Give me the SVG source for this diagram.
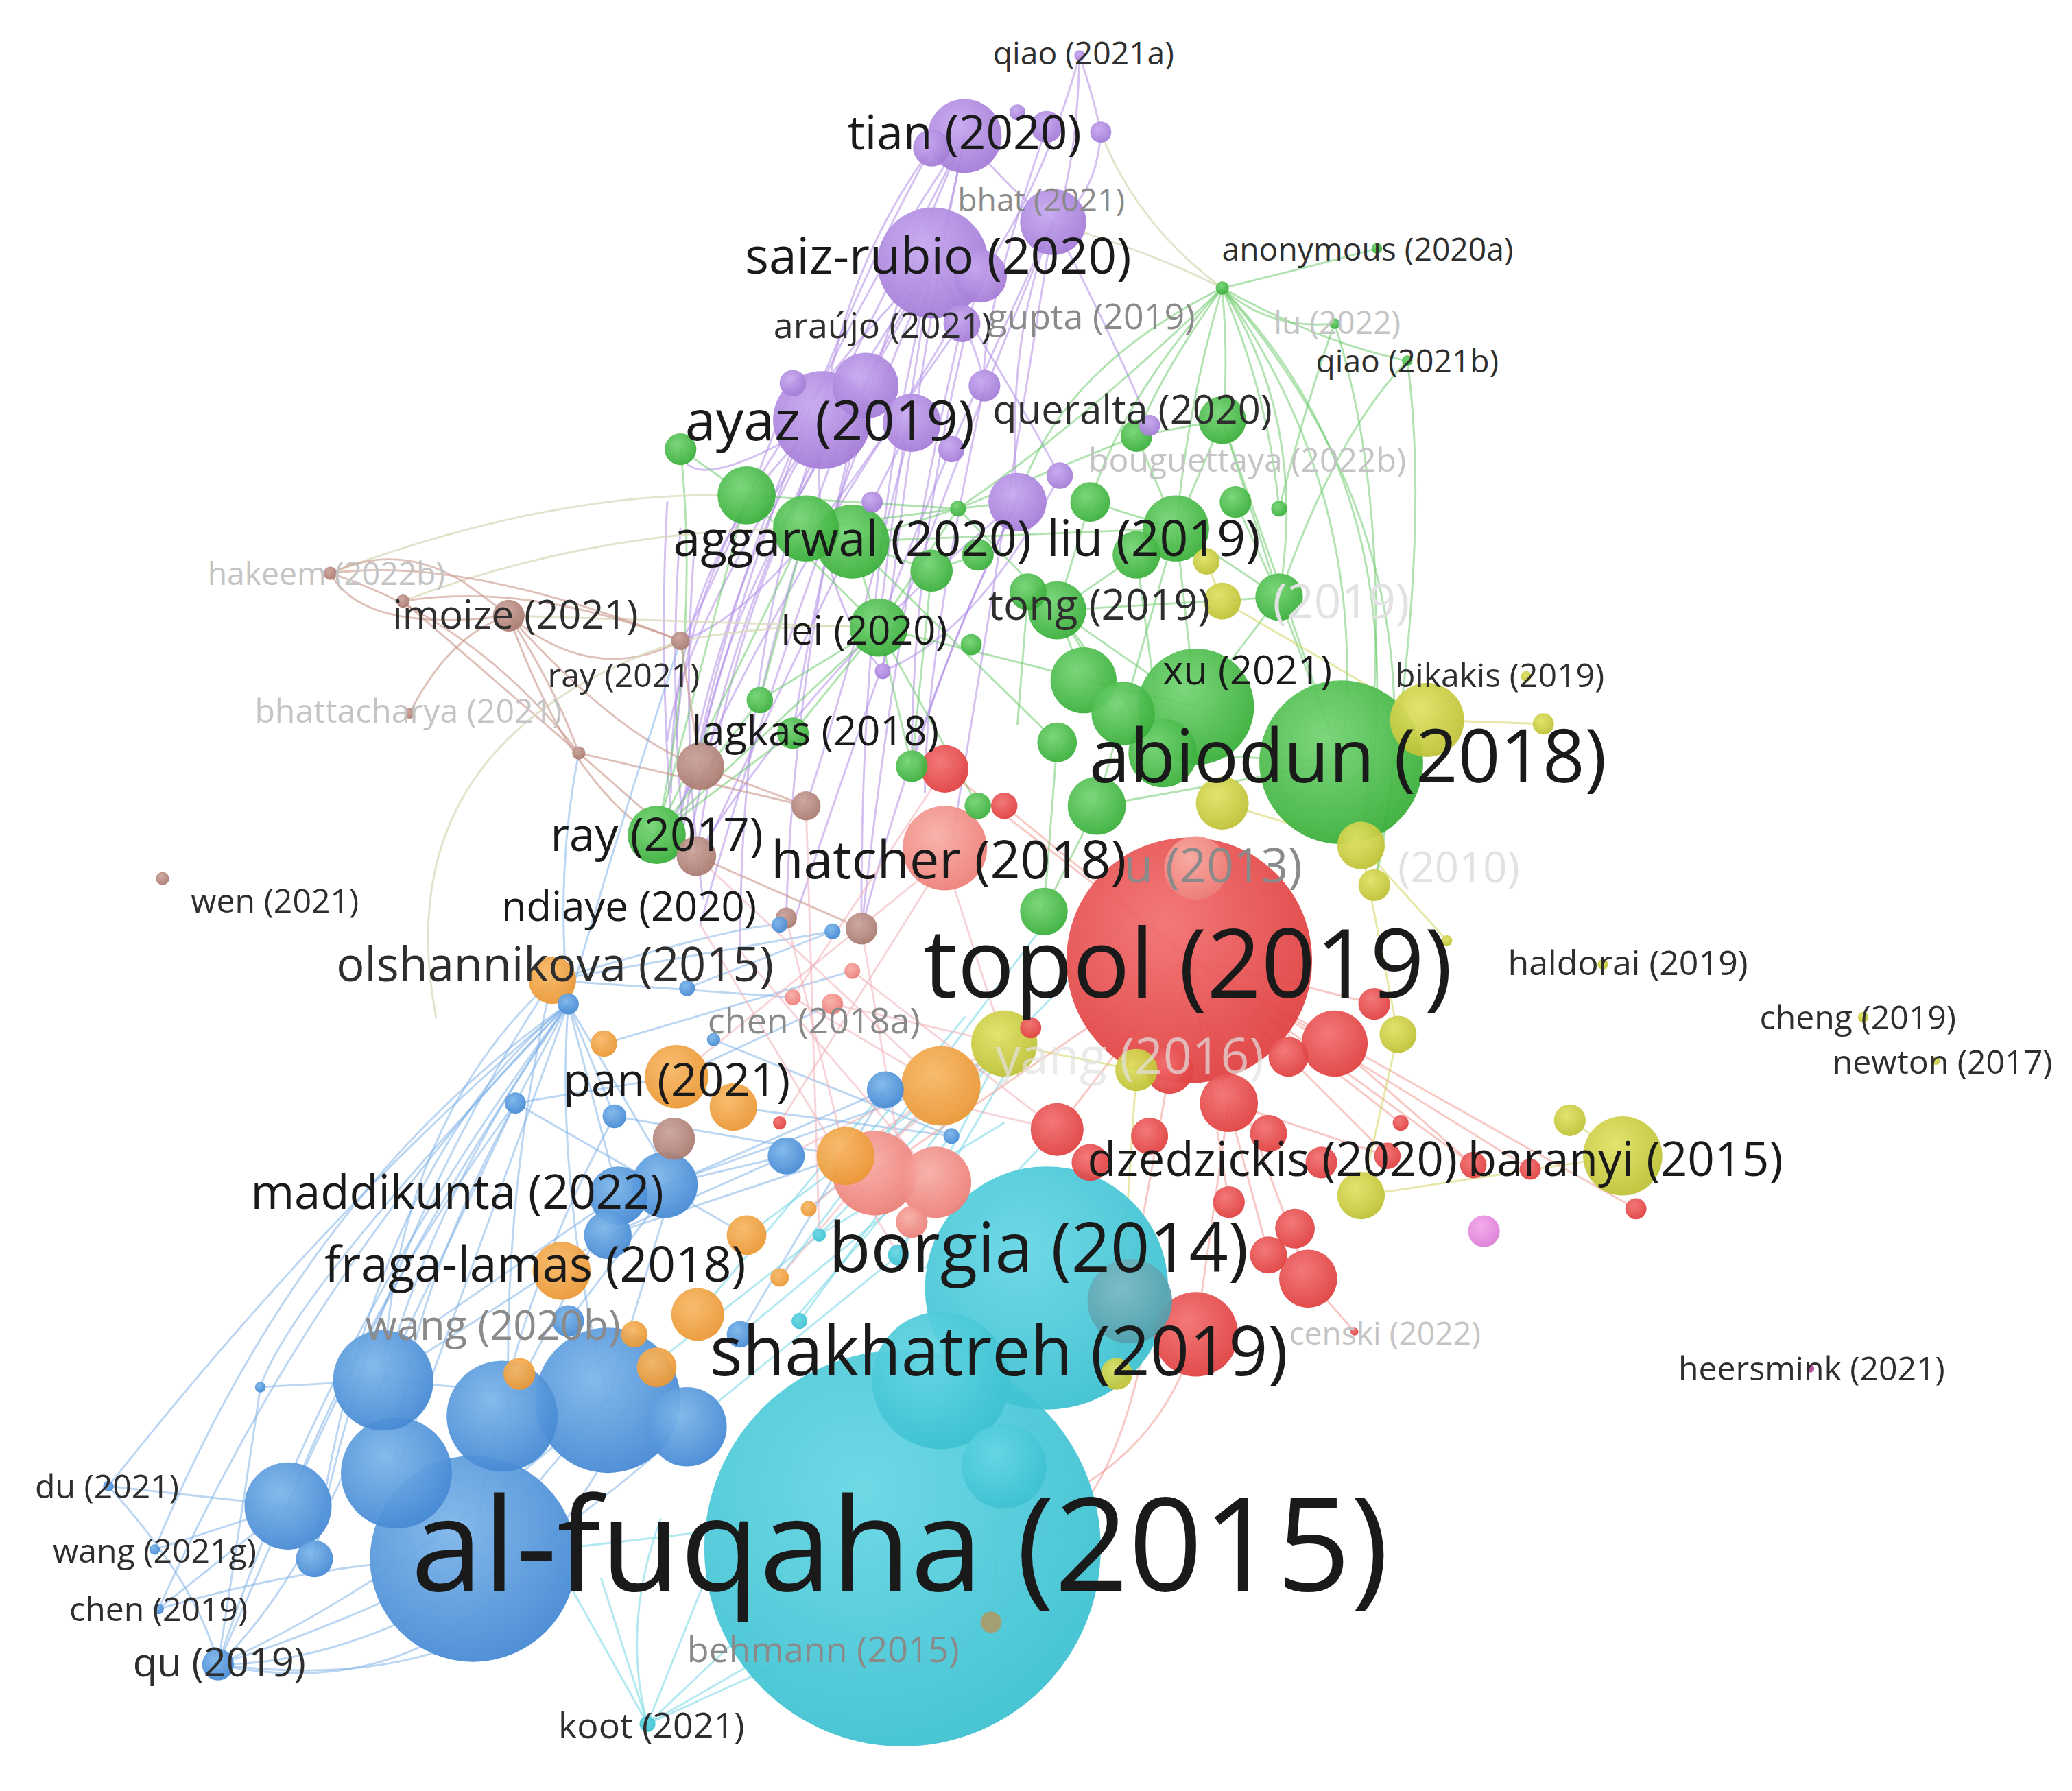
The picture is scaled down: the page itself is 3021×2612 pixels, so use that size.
<svg xmlns="http://www.w3.org/2000/svg" width="3021" height="2612" viewBox="0 0 3021 2612">
<defs>
<radialGradient id="gG" cx="40%" cy="35%" r="70%"><stop offset="0" stop-color="#74d474"/><stop offset="1" stop-color="#37ad37"/></radialGradient>
<radialGradient id="gP" cx="40%" cy="35%" r="70%"><stop offset="0" stop-color="#c6a8ef"/><stop offset="1" stop-color="#a27ad6"/></radialGradient>
<radialGradient id="gR" cx="40%" cy="35%" r="70%"><stop offset="0" stop-color="#f27070"/><stop offset="1" stop-color="#df3d3d"/></radialGradient>
<radialGradient id="gC" cx="40%" cy="35%" r="70%"><stop offset="0" stop-color="#66d6e4"/><stop offset="1" stop-color="#3bc0d0"/></radialGradient>
<radialGradient id="gB" cx="40%" cy="35%" r="70%"><stop offset="0" stop-color="#7db6ea"/><stop offset="1" stop-color="#4387d3"/></radialGradient>
<radialGradient id="gY" cx="40%" cy="35%" r="70%"><stop offset="0" stop-color="#e0e266"/><stop offset="1" stop-color="#bcc032"/></radialGradient>
<radialGradient id="gO" cx="40%" cy="35%" r="70%"><stop offset="0" stop-color="#f8b866"/><stop offset="1" stop-color="#ea9632"/></radialGradient>
<radialGradient id="gW" cx="40%" cy="35%" r="70%"><stop offset="0" stop-color="#cba49c"/><stop offset="1" stop-color="#a8786e"/></radialGradient>
<radialGradient id="gS" cx="40%" cy="35%" r="70%"><stop offset="0" stop-color="#f8aea6"/><stop offset="1" stop-color="#ec7d76"/></radialGradient>
<radialGradient id="gK" cx="40%" cy="35%" r="70%"><stop offset="0" stop-color="#f2a8ec"/><stop offset="1" stop-color="#dd7ad5"/></radialGradient>
<radialGradient id="gT" cx="40%" cy="35%" r="70%"><stop offset="0" stop-color="#7fbcc6"/><stop offset="1" stop-color="#4f9eab"/></radialGradient>
<style>
.g{fill:url(#gG)} .p{fill:url(#gP)} .r{fill:url(#gR)} .c{fill:url(#gC)} .b{fill:url(#gB)} .y{fill:url(#gY)} .o{fill:url(#gO)} .w{fill:url(#gW)} .s{fill:url(#gS)} .k{fill:url(#gK)} .t{fill:url(#gT)} .v{fill:#a89c6a} .mg{fill:#b0489a}
#nodes circle{opacity:.94}
#edges path{fill:none;stroke-linecap:round;stroke-width:1.5}
.ep{stroke:#b08ce6;stroke-opacity:.55}
.eg{stroke:#62c862;stroke-opacity:.5}
.eb{stroke:#78ade6;stroke-opacity:.5}
.ec{stroke:#72d6e3;stroke-opacity:.55}
.er{stroke:#f0918a;stroke-opacity:.5}
.ew{stroke:#c8968b;stroke-opacity:.6}
.ey{stroke:#d2d45e;stroke-opacity:.55}
.ex{stroke:#d9d8b8;stroke-opacity:.75}
.ek{stroke:#f0b0b8;stroke-opacity:.55}
text{font-family:"Open Sans","Liberation Sans",Arial,sans-serif;text-anchor:middle}
.l{fill:#1a1a1a} .m{fill:#2e2e2e} .h{fill:#8a8a8a} .f{fill:#c4c4c4} .ff{fill:#e2e2e2}
</style>
</defs>
<rect width="3021" height="2612" fill="#ffffff"/>
<g transform="scale(1.9266)">
<g id="edges">
<path class="ep" d="M817,42 Q815,120 800,165"/>
<path class="ep" d="M817,42 Q828,75 833,100"/>
<path class="ep" d="M817,42 Q790,140 742,209"/>
<path class="ep" d="M730,103 Q680,200 622,318"/>
<path class="ep" d="M730,103 Q720,160 706,199"/>
<path class="ep" d="M730,103 Q560,350 515,640"/>
<path class="ep" d="M730,103 Q770,150 797,168"/>
<path class="ep" d="M730,103 Q690,300 668,508"/>
<path class="ep" d="M730,103 Q640,300 600,555"/>
<path class="ep" d="M706,199 Q560,400 520,650"/>
<path class="ep" d="M706,199 Q600,450 530,700"/>
<path class="ep" d="M706,199 Q650,420 652,703"/>
<path class="ep" d="M706,199 Q740,260 745,292"/>
<path class="ep" d="M706,199 Q770,300 802,360"/>
<path class="ep" d="M706,199 Q620,330 575,530"/>
<path class="ep" d="M706,199 Q680,350 665,475"/>
<path class="ep" d="M706,199 L655,292"/>
<path class="ep" d="M622,318 Q540,450 510,650"/>
<path class="ep" d="M622,318 Q560,500 560,720"/>
<path class="ep" d="M622,318 Q515,480 505,560"/>
<path class="ep" d="M622,318 Q610,440 668,508"/>
<path class="ep" d="M622,318 Q520,380 515,340"/>
<path class="ep" d="M797,168 Q700,400 600,700"/>
<path class="ep" d="M797,168 Q760,260 770,380"/>
<path class="ep" d="M797,168 Q840,250 870,322"/>
<path class="ep" d="M797,168 Q720,330 665,475"/>
<path class="ep" d="M797,168 Q760,400 720,640"/>
<path class="ep" d="M770,380 Q620,500 527,648"/>
<path class="ep" d="M770,380 Q700,520 652,703"/>
<path class="ep" d="M742,209 Q600,460 515,485"/>
<path class="ep" d="M742,209 Q690,400 690,580"/>
<path class="ep" d="M655,292 Q540,470 530,580"/>
<path class="ep" d="M655,292 Q600,500 595,695"/>
<path class="ep" d="M655,292 Q560,420 527,648"/>
<path class="ep" d="M690,320 Q640,520 610,610"/>
<path class="ep" d="M690,320 Q600,500 530,650"/>
<path class="ep" d="M728,245 Q680,450 652,703"/>
<path class="ep" d="M728,245 Q600,420 510,620"/>
<path class="ep" d="M745,292 Q700,500 700,600"/>
<path class="ep" d="M770,380 Q720,480 690,580"/>
<path class="ep" d="M622,318 Q505,420 508,600"/>
<path class="ep" d="M706,199 Q520,380 512,560"/>
<path class="ep" d="M705,112 Q600,300 520,600"/>
<path class="ep" d="M833,100 Q830,150 797,168"/>
<path class="ep" d="M792,96 Q740,250 745,292"/>
<path class="ep" d="M705,112 Q640,200 622,318"/>
<path class="ep" d="M802,360 Q740,480 668,508"/>
<path class="ep" d="M600,290 Q540,450 515,485"/>
<path class="ep" d="M505,380 Q498,500 510,650"/>
<path class="ep" d="M515,400 Q505,520 520,660"/>
<path class="ep" d="M525,420 Q515,560 532,680"/>
<path class="eg" d="M925,218 Q880,280 860,330"/>
<path class="eg" d="M925,218 Q900,300 890,400"/>
<path class="eg" d="M925,218 Q930,280 925,318"/>
<path class="eg" d="M925,218 Q960,300 968,385"/>
<path class="eg" d="M925,218 Q990,320 968,452"/>
<path class="eg" d="M925,218 Q1040,380 1015,577"/>
<path class="eg" d="M925,218 Q850,300 825,380"/>
<path class="eg" d="M925,218 Q800,280 770,380"/>
<path class="eg" d="M925,218 Q1080,380 1030,640"/>
<path class="eg" d="M925,218 Q1100,420 1040,670"/>
<path class="eg" d="M925,218 Q960,250 1010,245"/>
<path class="eg" d="M925,218 Q1000,260 1065,273"/>
<path class="ex" d="M925,218 Q870,190 800,170"/>
<path class="ex" d="M925,218 Q860,170 833,100"/>
<path class="eg" d="M1010,245 Q1060,400 1030,640"/>
<path class="eg" d="M1065,273 Q1085,420 1040,670"/>
<path class="eg" d="M1042,188 Q1000,200 925,218"/>
<path class="eg" d="M925,218 Q820,320 725,385"/>
<path class="eg" d="M1010,245 Q990,300 968,385"/>
<path class="eg" d="M1065,273 Q1010,330 968,452"/>
<path class="eg" d="M725,385 L645,410"/>
<path class="eg" d="M725,385 L665,475"/>
<path class="eg" d="M725,385 L800,462"/>
<path class="eg" d="M725,385 L565,375"/>
<path class="eg" d="M725,385 L610,400"/>
<path class="eg" d="M725,385 L770,380"/>
<path class="eg" d="M725,385 L860,330"/>
<path class="eg" d="M645,410 L665,475"/>
<path class="eg" d="M645,410 L705,432"/>
<path class="eg" d="M610,400 L575,530"/>
<path class="eg" d="M565,375 L497,632"/>
<path class="eg" d="M665,475 L600,555"/>
<path class="eg" d="M665,475 L575,530"/>
<path class="eg" d="M665,475 L690,580"/>
<path class="eg" d="M800,462 L820,515"/>
<path class="eg" d="M800,462 L968,452"/>
<path class="eg" d="M800,462 L880,570"/>
<path class="eg" d="M890,400 L905,535"/>
<path class="eg" d="M890,400 L800,462"/>
<path class="eg" d="M890,400 L968,452"/>
<path class="eg" d="M890,400 L925,318"/>
<path class="eg" d="M860,330 L890,400"/>
<path class="eg" d="M860,330 L925,318"/>
<path class="eg" d="M968,452 L1015,577"/>
<path class="eg" d="M800,462 L850,540"/>
<path class="eg" d="M665,475 L740,610"/>
<path class="eg" d="M645,410 L800,562"/>
<path class="eg" d="M890,400 L830,610"/>
<path class="eg" d="M515,340 L565,375"/>
<path class="eg" d="M515,340 Q530,480 497,632"/>
<path class="eg" d="M825,380 L800,462"/>
<path class="eg" d="M825,380 L890,400"/>
<path class="eg" d="M935,380 L968,452"/>
<path class="eg" d="M860,420 L880,570"/>
<path class="eg" d="M665,475 L905,535"/>
<path class="eg" d="M645,410 L890,400"/>
<path class="eg" d="M565,375 L665,475"/>
<path class="eg" d="M610,400 L497,632"/>
<path class="eg" d="M575,530 L497,632"/>
<path class="eg" d="M600,555 L497,632"/>
<path class="eg" d="M800,562 L790,690"/>
<path class="eg" d="M830,610 L790,690"/>
<path class="eg" d="M968,452 L905,535"/>
<path class="eg" d="M925,318 L968,452"/>
<path class="eg" d="M740,420 L705,432"/>
<path class="eg" d="M705,432 L690,580"/>
<path class="eg" d="M778,448 L770,548"/>
<path class="eg" d="M665,475 L497,632"/>
<path class="eg" d="M925,318 L1015,577"/>
<path class="eg" d="M1015,577 L880,570"/>
<path class="eg" d="M1015,577 L830,610"/>
<path class="eg" d="M905,535 L820,515"/>
<path class="eg" d="M905,535 L800,462"/>
<path class="ex" d="M250,434 Q420,370 565,375"/>
<path class="ex" d="M305,455 Q450,400 610,400"/>
<path class="ex" d="M385,466 Q520,470 665,475"/>
<path class="ex" d="M515,485 Q600,470 665,475"/>
<path class="ew" d="M250,434 Q300,410 350,440 Q375,458 385,466"/>
<path class="ew" d="M250,434 Q275,480 385,466"/>
<path class="ew" d="M250,434 Q350,420 515,485"/>
<path class="ew" d="M305,455 Q400,440 515,485"/>
<path class="ew" d="M385,466 Q450,520 515,485"/>
<path class="ew" d="M385,466 Q420,520 438,570"/>
<path class="ew" d="M385,466 Q470,560 530,580"/>
<path class="ew" d="M385,466 Q440,620 527,648"/>
<path class="ew" d="M305,455 Q380,520 438,570"/>
<path class="ew" d="M310,540 Q340,480 385,466"/>
<path class="ew" d="M438,570 L527,648"/>
<path class="ew" d="M438,570 L610,610"/>
<path class="ew" d="M515,485 L530,580"/>
<path class="ew" d="M530,580 L610,610"/>
<path class="ew" d="M527,648 L652,703"/>
<path class="ew" d="M250,434 Q360,470 438,570"/>
<path class="ex" d="M515,485 Q290,560 330,770"/>
<path class="eb" d="M438,570 Q420,660 430,760"/>
<path class="eb" d="M515,485 Q470,620 430,760"/>
<path class="eb" d="M430,760 Q330,900 290,1045"/>
<path class="eb" d="M430,760 Q300,950 218,1140"/>
<path class="eb" d="M430,760 Q250,1000 165,1260"/>
<path class="eb" d="M430,760 Q360,950 300,1115"/>
<path class="eb" d="M430,760 Q420,900 460,1060"/>
<path class="eb" d="M430,760 Q220,980 197,1050"/>
<path class="eb" d="M430,760 Q280,880 238,1180"/>
<path class="eb" d="M430,760 Q240,950 120,1218"/>
<path class="eb" d="M430,760 Q230,900 117,1173"/>
<path class="eb" d="M430,760 Q260,900 82,1125"/>
<path class="eb" d="M430,760 L390,835"/>
<path class="eb" d="M430,760 L465,845"/>
<path class="eb" d="M430,760 L510,895"/>
<path class="eb" d="M430,760 L468,905"/>
<path class="eb" d="M418,742 Q380,900 385,1075"/>
<path class="eb" d="M418,742 Q280,950 238,1180"/>
<path class="eb" d="M418,742 Q300,850 290,1045"/>
<path class="eb" d="M390,835 Q300,1000 300,1115"/>
<path class="eb" d="M390,835 Q270,1000 218,1140"/>
<path class="eb" d="M465,845 Q380,1000 358,1180"/>
<path class="eb" d="M510,895 L460,1060"/>
<path class="eb" d="M468,905 L380,1072"/>
<path class="eb" d="M460,935 L290,1045"/>
<path class="eb" d="M197,1050 L290,1045"/>
<path class="eb" d="M82,1125 Q150,1200 165,1260"/>
<path class="eb" d="M165,1260 Q260,1230 358,1180"/>
<path class="eb" d="M165,1260 Q300,1200 460,1060"/>
<path class="eb" d="M165,1260 Q230,1200 290,1045"/>
<path class="eb" d="M165,1260 L218,1140"/>
<path class="eb" d="M165,1260 Q190,1100 197,1050"/>
<path class="eb" d="M165,1260 Q320,1260 520,1080"/>
<path class="eb" d="M165,1260 Q280,1275 358,1240"/>
<path class="eb" d="M165,1260 Q350,1300 460,1100"/>
<path class="eb" d="M120,1218 L218,1140"/>
<path class="eb" d="M117,1173 L218,1140"/>
<path class="eb" d="M82,1125 L218,1140"/>
<path class="eb" d="M120,1218 Q250,1180 358,1180"/>
<path class="eb" d="M358,1180 L460,1060"/>
<path class="eb" d="M290,1045 L460,1060"/>
<path class="eb" d="M510,895 L670,825"/>
<path class="eb" d="M468,905 L595,875"/>
<path class="eb" d="M390,835 L565,935"/>
<path class="eb" d="M465,845 L640,875"/>
<path class="eb" d="M390,835 L512,815"/>
<path class="eb" d="M460,935 L595,875"/>
<path class="eb" d="M290,1045 L390,835"/>
<path class="eb" d="M330,1000 L468,905"/>
<path class="eb" d="M430,1000 L510,895"/>
<path class="eb" d="M560,1010 L670,825"/>
<path class="eb" d="M520,748 L630,705"/>
<path class="eb" d="M540,787 L720,860"/>
<path class="eb" d="M418,742 Q560,700 590,700"/>
<path class="eb" d="M418,742 L630,705"/>
<path class="eb" d="M418,742 L600,755"/>
<path class="eb" d="M457,790 L645,735"/>
<path class="eb" d="M512,815 L630,760"/>
<path class="eb" d="M555,838 L720,860"/>
<path class="eb" d="M460,935 L640,875"/>
<path class="eb" d="M503,897 L712,822"/>
<path class="ec" d="M490,1305 L420,1180"/>
<path class="ec" d="M490,1305 L455,1195"/>
<path class="ec" d="M490,1305 L540,1180"/>
<path class="ec" d="M490,1305 L600,1255"/>
<path class="ec" d="M490,1305 L565,1262"/>
<path class="ec" d="M490,1305 Q470,1230 500,1150"/>
<path class="ec" d="M490,1305 L585,1215"/>
<path class="ec" d="M620,935 L760,850"/>
<path class="ec" d="M600,1000 L720,860"/>
<path class="ec" d="M560,1010 L705,890"/>
<path class="ec" d="M680,950 L780,780"/>
<path class="ec" d="M640,880 L730,770"/>
<path class="ec" d="M520,1080 L680,950"/>
<path class="ec" d="M460,1060 L620,935"/>
<path class="ec" d="M590,967 L790,700"/>
<path class="ec" d="M612,915 L760,790"/>
<path class="ec" d="M700,960 L800,855"/>
<path class="ec" d="M358,1180 L530,1160"/>
<path class="ec" d="M605,1000 L760,790"/>
<path class="ec" d="M620,935 L850,700"/>
<path class="ec" d="M680,950 L760,790"/>
<path class="ec" d="M528,995 L670,825"/>
<path class="ec" d="M565,935 L760,790"/>
<path class="er" d="M900,725 L1010,790"/>
<path class="er" d="M900,725 L1115,882"/>
<path class="er" d="M900,725 L1238,915"/>
<path class="er" d="M900,725 L990,968"/>
<path class="er" d="M900,725 L715,582"/>
<path class="er" d="M900,725 L660,890"/>
<path class="er" d="M900,725 L800,855"/>
<path class="er" d="M900,725 L1040,760"/>
<path class="er" d="M900,725 L930,910"/>
<path class="er" d="M900,725 L960,950"/>
<path class="er" d="M900,725 L1060,850"/>
<path class="er" d="M900,725 L760,610"/>
<path class="er" d="M900,725 L1050,875"/>
<path class="er" d="M840,1050 Q870,900 900,725"/>
<path class="er" d="M790,1140 Q880,1100 905,1010"/>
<path class="er" d="M1025,1008 L990,968"/>
<path class="er" d="M900,725 L1158,885"/>
<path class="er" d="M905,1010 L930,835"/>
<path class="er" d="M800,1160 Q850,1120 870,995"/>
<path class="er" d="M1010,790 L1115,882"/>
<path class="er" d="M930,835 L1050,875"/>
<path class="ek" d="M630,760 L760,790"/>
<path class="ek" d="M600,755 L712,822"/>
<path class="ek" d="M645,735 L800,855"/>
<path class="ek" d="M590,850 L715,650"/>
<path class="ek" d="M560,720 L710,895"/>
<path class="ek" d="M652,703 L690,925"/>
<path class="ek" d="M595,695 L640,875"/>
<path class="ek" d="M527,648 L712,822"/>
<path class="ek" d="M610,610 L620,935"/>
<path class="ek" d="M530,700 L680,950"/>
<path class="ek" d="M715,650 L760,790"/>
<path class="ek" d="M715,582 L600,755"/>
<path class="ek" d="M640,875 L780,778"/>
<path class="ek" d="M670,825 L800,855"/>
<path class="ek" d="M590,967 L712,822"/>
<path class="ek" d="M612,915 L780,778"/>
<path class="ek" d="M595,875 L760,790"/>
<path class="ek" d="M512,815 L715,650"/>
<path class="ey" d="M1228,875 L1188,848"/>
<path class="ey" d="M1228,875 L1030,905"/>
<path class="ey" d="M1080,545 L1168,548"/>
<path class="ey" d="M1030,640 L1095,712"/>
<path class="ey" d="M1058,783 L1030,640"/>
<path class="ey" d="M913,425 L925,455"/>
<path class="ey" d="M760,790 L860,810"/>
<path class="ey" d="M1030,905 L1058,783"/>
<path class="ey" d="M925,455 L1080,545"/>
<path class="ey" d="M845,1040 L860,810"/>
<path class="ey" d="M750,1228 L760,1110"/>
<path class="ey" d="M925,608 L1030,640"/>
<path class="ey" d="M1080,545 L1030,640"/>
</g>
<g id="nodes">
<g id="node-al-fuqaha-2015"><circle class="c" cx="683" cy="1172" r="150"/></g>
<g id="node-topol-2019"><circle class="r" cx="900" cy="727" r="93"/></g>
<g id="node-borgia-2014"><circle class="c" cx="792" cy="975" r="92"/></g>
<g id="n-b1"><circle class="b" cx="358" cy="1180" r="78"/></g>
<g id="node-abiodun-2018"><circle class="g" cx="1015" cy="577" r="62"/></g>
<g id="n-b2"><circle class="b" cx="460" cy="1060" r="55"/></g>
<g id="n-c2"><circle class="c" cx="712" cy="1045" r="52"/></g>
<g id="n-g1"><circle class="g" cx="905" cy="535" r="44"/></g>
<g id="n-b3"><circle class="b" cx="380" cy="1072" r="42"/></g>
<g id="node-saiz-rubio-2020"><circle class="p" cx="706" cy="199" r="42"/></g>
<g id="n-b4"><circle class="b" cx="300" cy="1115" r="42"/></g>
<g id="n-b5"><circle class="b" cx="290" cy="1045" r="38"/></g>
<g id="node-ayaz-2019"><circle class="p" cx="622" cy="318" r="37"/></g>
<g id="n-b6"><circle class="b" cx="218" cy="1140" r="33"/></g>
<g id="node-hatcher-2018"><circle class="s" cx="715" cy="642" r="32"/></g>
<g id="n-s1"><circle class="s" cx="662" cy="888" r="32"/></g>
<g id="n-r1"><circle class="r" cx="905" cy="1010" r="32"/></g>
<g id="n-t1"><circle class="t" cx="855" cy="985" r="32"/></g>
<g id="n-c3"><circle class="c" cx="760" cy="1110" r="32"/></g>
<g id="n-o1"><circle class="o" cx="712" cy="822" r="30"/></g>
<g id="n-y1"><circle class="y" cx="1228" cy="875" r="30"/></g>
<g id="n-b7"><circle class="b" cx="520" cy="1080" r="30"/></g>
<g id="n-y2"><circle class="y" cx="1080" cy="545" r="28"/></g>
<g id="node-tian-2020"><circle class="p" cx="730" cy="103" r="28"/></g>
<g id="node-aggarwal-2020"><circle class="g" cx="645" cy="410" r="28"/></g>
<g id="n-s2"><circle class="s" cx="708" cy="895" r="27"/></g>
<g id="n-g2"><circle class="g" cx="880" cy="570" r="26"/></g>
<g id="node-bhat-2021"><circle class="p" cx="797" cy="168" r="25"/></g>
<g id="n-p2"><circle class="p" cx="655" cy="292" r="25"/></g>
<g id="n-g3"><circle class="g" cx="610" cy="400" r="25"/></g>
<g id="node-liu-2019"><circle class="g" cx="890" cy="400" r="25"/></g>
<g id="n-g4"><circle class="g" cx="820" cy="515" r="25"/></g>
<g id="n-g5"><circle class="g" cx="850" cy="540" r="24"/></g>
<g id="n-y3"><circle class="y" cx="760" cy="790" r="25"/></g>
<g id="n-r2"><circle class="r" cx="1010" cy="790" r="25"/></g>
<g id="node-u-2013"><circle class="s" cx="905" cy="657" r="24"/></g>
<g id="node-pan-2021"><circle class="o" cx="512" cy="815" r="24"/></g>
<g id="n-b8"><circle class="b" cx="503" cy="897" r="25"/></g>
<g id="n-p3"><circle class="p" cx="690" cy="320" r="22"/></g>
<g id="n-p4"><circle class="p" cx="770" cy="380" r="22"/></g>
<g id="n-g6"><circle class="g" cx="565" cy="375" r="22"/></g>
<g id="node-lei-2020"><circle class="g" cx="665" cy="475" r="22"/></g>
<g id="node-tong-2019"><circle class="g" cx="800" cy="462" r="22"/></g>
<g id="n-g7"><circle class="g" cx="830" cy="610" r="22"/></g>
<g id="node-ray-2017"><circle class="g" cx="497" cy="632" r="22"/></g>
<g id="n-r3"><circle class="r" cx="930" cy="835" r="22"/></g>
<g id="n-r4"><circle class="r" cx="990" cy="968" r="22"/></g>
<g id="n-o2"><circle class="o" cx="640" cy="875" r="22"/></g>
<g id="node-fraga-lamas-2018"><circle class="o" cx="425" cy="962" r="22"/></g>
<g id="n-b9"><circle class="b" cx="468" cy="905" r="22"/></g>
<g id="n-p5"><circle class="p" cx="742" cy="209" r="20"/></g>
<g id="n-r5"><circle class="r" cx="800" cy="855" r="20"/></g>
<g id="n-o3"><circle class="o" cx="528" cy="995" r="20"/></g>
<g id="n-y4"><circle class="y" cx="925" cy="608" r="20"/></g>
<g id="n-g8"><circle class="g" cx="925" cy="318" r="18"/></g>
<g id="n-g9"><circle class="g" cx="968" cy="452" r="18"/></g>
<g id="n-g10"><circle class="g" cx="860" cy="420" r="18"/></g>
<g id="n-g11"><circle class="g" cx="790" cy="690" r="18"/></g>
<g id="node-olshannikova-2015"><circle class="o" cx="418" cy="742" r="18"/></g>
<g id="n-o4"><circle class="o" cx="555" cy="838" r="18"/></g>
<g id="n-w1"><circle class="w" cx="530" cy="580" r="18"/></g>
<g id="n-r6"><circle class="r" cx="715" cy="582" r="18"/></g>
<g id="n-r7"><circle class="r" cx="885" cy="810" r="18"/></g>
<g id="n-y5"><circle class="y" cx="1030" cy="640" r="18"/></g>
<g id="n-y6"><circle class="y" cx="1030" cy="905" r="18"/></g>
<g id="n-b10"><circle class="b" cx="460" cy="935" r="18"/></g>
<g id="n-g12"><circle class="g" cx="705" cy="432" r="16"/></g>
<g id="n-y7"><circle class="y" cx="860" cy="810" r="16"/></g>
<g id="n-w2"><circle class="w" cx="510" cy="862" r="16"/></g>
<g id="n-g13"><circle class="g" cx="825" cy="380" r="15"/></g>
<g id="n-g14"><circle class="g" cx="800" cy="562" r="15"/></g>
<g id="n-o5"><circle class="o" cx="565" cy="935" r="15"/></g>
<g id="n-o6"><circle class="o" cx="497" cy="1035" r="15"/></g>
<g id="n-w3"><circle class="w" cx="527" cy="648" r="15"/></g>
<g id="n-r8"><circle class="r" cx="975" cy="800" r="15"/></g>
<g id="n-r9"><circle class="r" cx="980" cy="930" r="15"/></g>
<g id="n-p6"><circle class="p" cx="705" cy="112" r="14"/></g>
<g id="n-p7"><circle class="p" cx="728" cy="245" r="14"/></g>
<g id="n-g15"><circle class="g" cx="778" cy="448" r="14"/></g>
<g id="n-y8"><circle class="y" cx="925" cy="455" r="14"/></g>
<g id="n-y9"><circle class="y" cx="1058" cy="783" r="14"/></g>
<g id="n-r10"><circle class="r" cx="825" cy="880" r="14"/></g>
<g id="n-r11"><circle class="r" cx="870" cy="860" r="14"/></g>
<g id="n-r12"><circle class="r" cx="960" cy="858" r="14"/></g>
<g id="n-r13"><circle class="r" cx="960" cy="950" r="14"/></g>
<g id="n-b11"><circle class="b" cx="595" cy="875" r="14"/></g>
<g id="n-b12"><circle class="b" cx="670" cy="825" r="14"/></g>
<g id="n-b13"><circle class="b" cx="238" cy="1180" r="14"/></g>
<g id="node-ndiaye-2020"><circle class="w" cx="652" cy="703" r="12"/></g>
<g id="n-p8"><circle class="p" cx="792" cy="96" r="12"/></g>
<g id="n-p9"><circle class="p" cx="745" cy="292" r="12"/></g>
<g id="n-g16"><circle class="g" cx="515" cy="340" r="12"/></g>
<g id="node-queralta-2020"><circle class="g" cx="860" cy="330" r="12"/></g>
<g id="n-g17"><circle class="g" cx="740" cy="420" r="12"/></g>
<g id="n-g18"><circle class="g" cx="935" cy="380" r="12"/></g>
<g id="n-g19"><circle class="g" cx="600" cy="555" r="12"/></g>
<g id="n-g20"><circle class="g" cx="690" cy="580" r="12"/></g>
<g id="node-imoize-2021"><circle class="w" cx="385" cy="466" r="12"/></g>
<g id="n-y10"><circle class="y" cx="1188" cy="848" r="12"/></g>
<g id="n-y11"><circle class="y" cx="1040" cy="670" r="12"/></g>
<g id="n-y12"><circle class="y" cx="845" cy="1040" r="12"/></g>
<g id="n-r14"><circle class="r" cx="1040" cy="760" r="12"/></g>
<g id="n-r15"><circle class="r" cx="1000" cy="880" r="12"/></g>
<g id="n-r16"><circle class="r" cx="930" cy="910" r="12"/></g>
<g id="n-o7"><circle class="o" cx="393" cy="1040" r="12"/></g>
<g id="n-b14"><circle class="b" cx="430" cy="1000" r="12"/></g>
<g id="node-qu-2019"><circle class="b" cx="165" cy="1260" r="12"/></g>
<g id="n-s3"><circle class="s" cx="690" cy="925" r="12"/></g>
<g id="n-k1"><circle class="k" cx="1123" cy="932" r="12"/></g>
<g id="n-w4"><circle class="w" cx="610" cy="610" r="11"/></g>
<g id="n-p10"><circle class="p" cx="720" cy="340" r="10"/></g>
<g id="n-p11"><circle class="p" cx="802" cy="360" r="10"/></g>
<g id="n-p12"><circle class="p" cx="600" cy="290" r="10"/></g>
<g id="n-g21"><circle class="g" cx="575" cy="530" r="10"/></g>
<g id="n-g22"><circle class="g" cx="740" cy="610" r="10"/></g>
<g id="n-y13"><circle class="y" cx="913" cy="425" r="10"/></g>
<g id="n-r17"><circle class="r" cx="760" cy="610" r="10"/></g>
<g id="n-r18"><circle class="r" cx="1115" cy="882" r="10"/></g>
<g id="n-r19"><circle class="r" cx="1050" cy="875" r="10"/></g>
<g id="n-o8"><circle class="o" cx="457" cy="790" r="10"/></g>
<g id="n-o9"><circle class="o" cx="480" cy="1010" r="10"/></g>
<g id="n-b15"><circle class="b" cx="560" cy="1010" r="10"/></g>
<g id="n-b16"><circle class="b" cx="465" cy="845" r="9"/></g>
<g id="n-p13"><circle class="p" cx="833" cy="100" r="8"/></g>
<g id="n-p14"><circle class="p" cx="870" cy="322" r="8"/></g>
<g id="n-p15"><circle class="p" cx="660" cy="380" r="8"/></g>
<g id="n-g23"><circle class="g" cx="735" cy="488" r="8"/></g>
<g id="node-bikakis-2019"><circle class="y" cx="1168" cy="548" r="8"/></g>
<g id="n-r20"><circle class="r" cx="1158" cy="885" r="8"/></g>
<g id="n-r21"><circle class="r" cx="1238" cy="915" r="8"/></g>
<g id="n-r22"><circle class="r" cx="780" cy="778" r="8"/></g>
<g id="n-w5"><circle class="w" cx="595" cy="695" r="8"/></g>
<g id="n-b17"><circle class="b" cx="390" cy="835" r="8"/></g>
<g id="n-b18"><circle class="b" cx="430" cy="760" r="8"/></g>
<g id="n-s4"><circle class="s" cx="630" cy="760" r="8"/></g>
<g id="n-c4"><circle class="c" cx="680" cy="950" r="8"/></g>
<g id="node-behmann-2015"><circle class="v" cx="750" cy="1228" r="8"/></g>
<g id="n-o10"><circle class="o" cx="590" cy="967" r="7"/></g>
<g id="node-ray-2021"><circle class="w" cx="515" cy="485" r="7"/></g>
<g id="n-p16"><circle class="p" cx="770" cy="85" r="6"/></g>
<g id="n-p17"><circle class="p" cx="668" cy="508" r="6"/></g>
<g id="n-g24"><circle class="g" cx="968" cy="385" r="6"/></g>
<g id="n-g25"><circle class="g" cx="725" cy="385" r="6"/></g>
<g id="n-o11"><circle class="o" cx="612" cy="915" r="6"/></g>
<g id="n-b19"><circle class="b" cx="520" cy="748" r="6"/></g>
<g id="n-b20"><circle class="b" cx="590" cy="700" r="6"/></g>
<g id="n-b21"><circle class="b" cx="630" cy="705" r="6"/></g>
<g id="n-b22"><circle class="b" cx="720" cy="860" r="6"/></g>
<g id="n-s5"><circle class="s" cx="600" cy="755" r="6"/></g>
<g id="n-s6"><circle class="s" cx="645" cy="735" r="6"/></g>
<g id="n-c5"><circle class="c" cx="605" cy="1000" r="6"/></g>
<g id="node-koot-2021"><circle class="c" cx="490" cy="1305" r="6"/></g>
<g id="n-r23"><circle class="r" cx="1060" cy="850" r="6"/></g>
<g id="node-hakeem-2022b"><circle class="w" cx="250" cy="434" r="5"/></g>
<g id="n-w6"><circle class="w" cx="305" cy="455" r="5"/></g>
<g id="n-w7"><circle class="w" cx="438" cy="570" r="5"/></g>
<g id="node-wen-2021"><circle class="w" cx="123" cy="665" r="5"/></g>
<g id="n-g26"><circle class="g" cx="925" cy="218" r="5"/></g>
<g id="n-b23"><circle class="b" cx="540" cy="787" r="5"/></g>
<g id="n-c6"><circle class="c" cx="620" cy="935" r="5"/></g>
<g id="n-r24"><circle class="r" cx="590" cy="850" r="5"/></g>
<g id="node-qiao-2021a"><circle class="p" cx="817" cy="42" r="4"/></g>
<g id="node-bhattacharya-2021"><circle class="w" cx="310" cy="540" r="4"/></g>
<g id="node-lu-2022"><circle class="g" cx="1010" cy="245" r="4"/></g>
<g id="node-qiao-2021b"><circle class="g" cx="1065" cy="273" r="4"/></g>
<g id="node-anonymous-2020a"><circle class="g" cx="1042" cy="188" r="4"/></g>
<g id="n-y14"><circle class="y" cx="1155" cy="512" r="4"/></g>
<g id="n-y15"><circle class="y" cx="1095" cy="712" r="4"/></g>
<g id="node-haldorai-2019"><circle class="y" cx="1213" cy="730" r="4"/></g>
<g id="node-cheng-2019"><circle class="y" cx="1410" cy="770" r="4"/></g>
<g id="node-newton-2017"><circle class="y" cx="1465" cy="803" r="3"/></g>
<g id="node-heersmink-2021"><circle class="mg" cx="1370" cy="1036" r="3"/></g>
<g id="node-censki-2022"><circle class="r" cx="1025" cy="1008" r="3"/></g>
<g id="n-b24"><circle class="b" cx="197" cy="1050" r="4"/></g>
<g id="node-du-2021"><circle class="b" cx="82" cy="1125" r="4"/></g>
<g id="node-wang-2021g"><circle class="b" cx="117" cy="1173" r="4"/></g>
<g id="node-chen-2019"><circle class="b" cx="120" cy="1218" r="4"/></g>
</g>
<g id="labels">
<text class="ff" x="1015" y="468" font-size="36">(2019)</text>
<text class="ff" x="1104" y="668" font-size="32">(2010)</text>
<text class="ff" x="855" y="813" font-size="38" opacity=".7">yang (2016)</text>
<text class="m" x="820" y="49" font-size="24">qiao (2021a)</text>
<text class="l" x="730" y="113" font-size="36">tian (2020)</text>
<text class="h" x="788" y="160" font-size="24">bhat (2021)</text>
<text class="l" x="710" y="207" font-size="38">saiz-rubio (2020)</text>
<text class="m" x="1035" y="197" font-size="24">anonymous (2020a)</text>
<text class="m" x="668" y="256" font-size="27">araújo (2021)</text>
<text class="h" x="826" y="249" font-size="27">gupta (2019)</text>
<text class="f" x="1012" y="253" font-size="24">lu (2022)</text>
<text class="m" x="1065" y="282" font-size="24">qiao (2021b)</text>
<text class="l" x="628" y="333" font-size="42">ayaz (2019)</text>
<text class="m" x="857" y="321" font-size="30">queralta (2020)</text>
<text class="f" x="944" y="357" font-size="25">bouguettaya (2022b)</text>
<text class="l" x="645" y="421" font-size="37">aggarwal (2020)</text>
<text class="l" x="873" y="421" font-size="38">liu (2019)</text>
<text class="f" x="247" y="443" font-size="24">hakeem (2022b)</text>
<text class="m" x="390" y="476" font-size="30">imoize (2021)</text>
<text class="l" x="654" y="488" font-size="30">lei (2020)</text>
<text class="m" x="832" y="469" font-size="32">tong (2019)</text>
<text class="m" x="472" y="520" font-size="25">ray (2021)</text>
<text class="l" x="944" y="518" font-size="30">xu (2021)</text>
<text class="m" x="1135" y="520" font-size="25">bikakis (2019)</text>
<text class="f" x="309" y="547" font-size="25">bhattacharya (2021)</text>
<text class="l" x="617" y="564" font-size="31">lagkas (2018)</text>
<text class="l" x="1020" y="592" font-size="56">abiodun (2018)</text>
<text class="h" x="918" y="668" font-size="36">u (2013)</text>
<text class="l" x="497" y="644" font-size="35">ray (2017)</text>
<text class="l" x="718" y="665" font-size="40">hatcher (2018)</text>
<text class="m" x="208" y="691" font-size="25">wen (2021)</text>
<text class="l" x="476" y="697" font-size="31">ndiaye (2020)</text>
<text class="m" x="420" y="743" font-size="35.6">olshannikova (2015)</text>
<text class="l" x="899" y="755" font-size="72">topol (2019)</text>
<text class="m" x="1232" y="738" font-size="26">haldorai (2019)</text>
<text class="h" x="616" y="782" font-size="27">chen (2018a)</text>
<text class="m" x="1406" y="779" font-size="25">cheng (2019)</text>
<text class="m" x="1470" y="813" font-size="25">newton (2017)</text>
<text class="l" x="512" y="830" font-size="35">pan (2021)</text>
<text class="l" x="963" y="890" font-size="35.7">dzedzickis (2020)</text>
<text class="l" x="1230" y="890" font-size="36">baranyi (2015)</text>
<text class="l" x="346" y="915" font-size="35.7">maddikunta (2022)</text>
<text class="l" x="786" y="963" font-size="52">borgia (2014)</text>
<text class="l" x="405" y="970" font-size="37">fraga-lamas (2018)</text>
<text class="h" x="373" y="1014" font-size="31">wang (2020b)</text>
<text class="f" x="1048" y="1018" font-size="24">censki (2022)</text>
<text class="l" x="756" y="1041" font-size="52">shakhatreh (2019)</text>
<text class="m" x="1371" y="1045" font-size="25">heersmink (2021)</text>
<text class="m" x="81" y="1134" font-size="25">du (2021)</text>
<text class="l" x="681" y="1204" font-size="98">al-fuqaha (2015)</text>
<text class="m" x="117" y="1183" font-size="25">wang (2021g)</text>
<text class="m" x="120" y="1227" font-size="25">chen (2019)</text>
<text class="m" x="166" y="1269" font-size="30">qu (2019)</text>
<text class="h" x="623" y="1258" font-size="27">behmann (2015)</text>
<text class="m" x="493" y="1316" font-size="27">koot (2021)</text>
</g>
</g>
</svg>
